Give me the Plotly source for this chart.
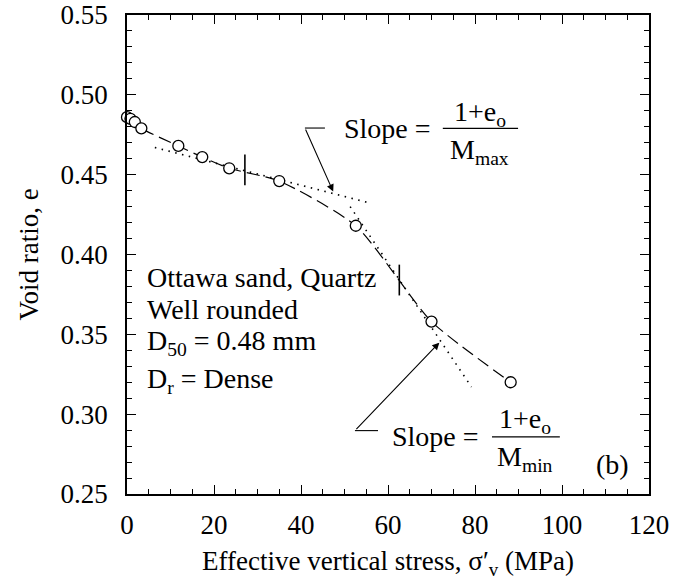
import plotly.graph_objects as go

# ---- data ----
stress = [0, 0.8, 1.8, 3.3, 11.8, 17.3, 23.5, 35.0, 52.6, 70.0, 88.2]
void_ratio = [0.486, 0.485, 0.483, 0.479, 0.468, 0.461, 0.454, 0.446, 0.418, 0.358, 0.320]

tick_x = [27.1, 62.6]
tick_e = [0.453, 0.384]

tan_max_x = [6.4, 56.2]
tan_max_e = [0.467, 0.432]
tan_min_x = [51.3, 79.2]
tan_min_e = [0.430, 0.317]

lead1_x = [45.5, 40.9]
lead1_e = [0.4792, 0.4792]
tip1 = (47.4, 0.4394)
lead2_x = [57.7, 52.4]
lead2_e = [0.2897, 0.2897]
tip2 = (71.8, 0.3448)

x_ticks = [0, 20, 40, 60, 80, 100, 120]
y_ticks = [0.25, 0.30, 0.35, 0.40, 0.45, 0.50, 0.55]

FONT = "Liberation Serif"
BLACK = "black"

fig = go.Figure()

# tangent (dotted) lines
for tx, te in ((tan_max_x, tan_max_e), (tan_min_x, tan_min_e)):
    fig.add_trace(go.Scatter(x=tx, y=te, mode="lines",
                             line=dict(color=BLACK, width=1.6, dash="1.5px,5.5px"),
                             showlegend=False, hoverinfo="skip"))

# dashed curve through data
fig.add_trace(go.Scatter(x=stress, y=void_ratio, mode="lines",
                         line=dict(color=BLACK, width=1.2, dash="13px,6px", shape="spline", smoothing=0.6),
                         showlegend=False, hoverinfo="skip"))

# data circles
fig.add_trace(go.Scatter(x=stress, y=void_ratio, mode="markers",
                         marker=dict(symbol="circle", size=11, color="white",
                                     line=dict(color=BLACK, width=1.3)),
                         cliponaxis=False, showlegend=False))

# cross tick marks
fig.add_trace(go.Scatter(x=tick_x, y=tick_e, mode="markers",
                         marker=dict(symbol="line-ns", size=22,
                                     line=dict(color=BLACK, width=1.6)),
                         showlegend=False, hoverinfo="skip"))

# leader horizontal segments
for lx, le in ((lead1_x, lead1_e), (lead2_x, lead2_e)):
    fig.add_trace(go.Scatter(x=lx, y=le, mode="lines",
                             line=dict(color=BLACK, width=1.1),
                             showlegend=False, hoverinfo="skip"))

# arrows
for tip, lx, le in ((tip1, lead1_x, lead1_e), (tip2, lead2_x, lead2_e)):
    fig.add_annotation(x=tip[0], y=tip[1], ax=lx[1], ay=le[1],
                       xref="x", yref="y", axref="x", ayref="y",
                       text="", showarrow=True, arrowhead=2, arrowsize=1.3,
                       arrowwidth=1.1, arrowcolor=BLACK, standoff=0)

ann_font = dict(family=FONT, size=28, color=BLACK)

# info text
info = [
    ("Ottawa sand, Quartz", 0.3853),
    ("Well rounded", 0.3653),
    ("D<sub>50</sub> = 0.48 mm", 0.3446),
    ("D<sub>r</sub> = Dense", 0.3214),
]
for txt, ev in info:
    fig.add_annotation(x=4.1, y=ev, xref="x", yref="y", text=txt, showarrow=False,
                       xanchor="left", yanchor="middle", font=ann_font)

# Slope annotations
def slope_block(x_left, e_mid, x_frac, e_num, e_den, bar_x0, bar_x1, sub):
    fig.add_annotation(x=x_left, y=e_mid, xref="x", yref="y", text="Slope =",
                       showarrow=False, xanchor="left", yanchor="middle", font=ann_font)
    fig.add_annotation(x=x_frac, y=e_num, xref="x", yref="y", text="1+e<sub>o</sub>",
                       showarrow=False, xanchor="center", yanchor="middle", font=ann_font)
    fig.add_annotation(x=x_frac, y=e_den, xref="x", yref="y", text="M<sub>" + sub + "</sub>",
                       showarrow=False, xanchor="center", yanchor="middle", font=ann_font)
    fig.add_shape(type="line", x0=bar_x0, x1=bar_x1, y0=e_mid, y1=e_mid,
                  xref="x", yref="y", line=dict(color=BLACK, width=1.3))

slope_block(49.4, 0.4790, 81.1, 0.4886, 0.4648, 72.6, 89.9, "max")
slope_block(60.5, 0.2858, 91.5, 0.2958, 0.2720, 83.9, 99.5, "min")

fig.add_annotation(x=111.7, y=0.2682, xref="x", yref="y", text="(b)", showarrow=False,
                   xanchor="center", yanchor="middle", font=ann_font)

axis_common = dict(showline=True, linecolor=BLACK, linewidth=1.5, mirror="ticks",
                   ticks="inside", ticklen=9, tickwidth=1.3, tickcolor=BLACK,
                   showgrid=False, zeroline=False,
                   tickfont=dict(family=FONT, size=27, color=BLACK))

fig.update_xaxes(range=[0, 120], tickvals=x_ticks, ticktext=[str(v) for v in x_ticks],
                 minor=dict(ticks="inside", ticklen=5, tickwidth=1.1, tickcolor=BLACK, dtick=5, tick0=0),
                 title=dict(text="Effective vertical stress, σ′<sub>v</sub> (MPa)",
                            font=dict(family=FONT, size=27, color=BLACK), standoff=12),
                 ticklabelstandoff=6, **axis_common)
fig.update_yaxes(range=[0.25, 0.55], tickvals=y_ticks, ticktext=[f"{v:.2f}" for v in y_ticks],
                 minor=dict(ticks="inside", ticklen=5, tickwidth=1.1, tickcolor=BLACK, dtick=0.01, tick0=0.25),
                 title=dict(text="Void ratio, e",
                            font=dict(family=FONT, size=27, color=BLACK), standoff=14),
                 ticklabelstandoff=12, **axis_common)

fig.update_layout(width=685, height=582, margin=dict(l=127, r=36, t=15, b=88, autoexpand=False),
                  plot_bgcolor="white", paper_bgcolor="white", showlegend=False)

fig.write_html("out.html")
